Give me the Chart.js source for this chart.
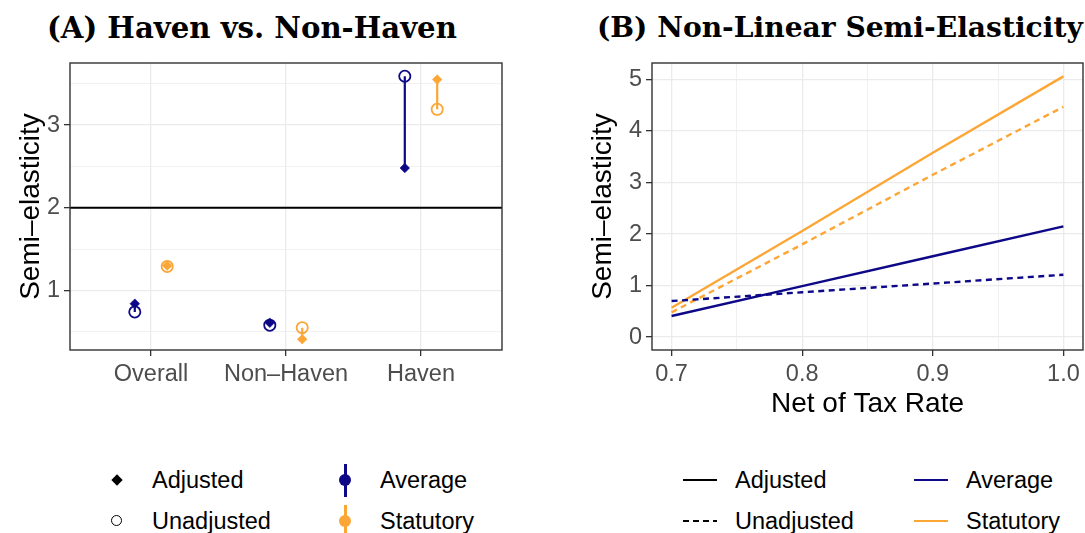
<!DOCTYPE html>
<html>
<head>
<meta charset="utf-8">
<script src="https://cdn.jsdelivr.net/npm/chart.js@4.4.0/dist/chart.umd.min.js"></script>
<style>
  body { margin: 0; background: #fff; width: 1085px; height: 533px; position: relative; overflow: hidden;
         font-family: "Liberation Sans", Arial, sans-serif; }
  .title { position: absolute; font-family: "DejaVu Serif", serif; font-weight: bold;
           font-size: 28px; line-height: 1; white-space: nowrap; color: #000; }
  .wrap { position: absolute; top: 0; height: 430px; }
  .legend { position: absolute; font-size: 23.5px; color: #000; }
  .item { position: absolute; white-space: nowrap; line-height: 28px; }
  .key { position: absolute; }
</style>
</head>
<body>
<div class="title" id="titleA">(A) Haven vs. Non-Haven</div>
<div class="title" id="titleB">(B) Non-Linear Semi-Elasticity</div>
<div class="wrap" style="left:0;width:545px"><canvas id="chartA" width="545" height="430"></canvas></div>
<div class="wrap" style="left:545px;width:540px"><canvas id="chartB" width="540" height="430"></canvas></div>
<div id="legends"></div>

<script>
// panel A: semi-elasticity by group
const groups = ["Overall", "Non\u2013Haven", "Haven"];
const avgAdjusted = [0.84, 0.61, 2.48];
const avgUnadjusted = [0.74, 0.58, 3.59];
const statAdjusted = [1.30, 0.41, 3.55];
const statUnadjusted = [1.29, 0.55, 3.19];
const benchmark = 2;

// panel B: semi-elasticity over net of tax rate
const netRate = [0.7, 0.8, 0.9, 1.0];
const avgAdjLine = [0.41, 0.99, 1.57, 2.15];
const avgUnadjLine = [0.70, 0.87, 1.04, 1.21];
const statAdjLine = [0.57, 2.06, 3.58, 5.06];
const statUnadjLine = [0.48, 1.80, 3.15, 4.47];

const NAVY = "#0D0887";
const ORANGE = "#FCA636";
const GRID = "#EBEBEB";
const FRAME = "#333333";
const TICKTXT = "#4D4D4D";
const dodge = 0.12;

// stretch the serif titles to the width they take in the figure
function fitTitle(id, left, right, top) {
  const el = document.getElementById(id);
  const w = el.getBoundingClientRect().width;
  el.style.fontSize = (28 * (right - left) / w) + "px";
  el.style.left = left + "px";
  el.style.top = top + "px";
}
fitTitle("titleA", 47, 457, 14);
fitTitle("titleB", 597, 1083, 14);

const isMajor = v => Math.abs(v - Math.round(v)) < 1e-6;

const frame = {
  id: "frame",
  afterDraw(chart) {
    const { ctx, chartArea: a } = chart;
    ctx.save();
    ctx.strokeStyle = FRAME;
    ctx.lineWidth = 1.4;
    ctx.strokeRect(a.left, a.top, a.right - a.left, a.bottom - a.top);
    ctx.restore();
  }
};

const hline = {
  id: "hline",
  beforeDatasetsDraw(chart) {
    const { ctx, chartArea: a, scales } = chart;
    const y = scales.y.getPixelForValue(benchmark);
    ctx.save();
    ctx.strokeStyle = "#000";
    ctx.lineWidth = 2;
    ctx.beginPath();
    ctx.moveTo(a.left, y);
    ctx.lineTo(a.right, y);
    ctx.stroke();
    ctx.restore();
  }
};

const pts = (vals, off) => vals.map((v, i) => ({ x: i + 1 + off, y: v }));
const segs = (a, b, off) => {
  const d = [];
  a.forEach((v, i) => d.push({ x: i + 1 + off, y: v }, { x: i + 1 + off, y: b[i] }, { x: i + 1 + off, y: null }));
  return d;
};

const segSet = (a, b, off, col) => ({
  data: segs(a, b, off), showLine: true, borderColor: col, borderWidth: 2.2, pointRadius: 0, spanGaps: false
});
const circleSet = (vals, off, col) => ({
  data: pts(vals, off), pointStyle: "circle", pointRadius: 5.6, pointBorderWidth: 1.8,
  pointBackgroundColor: "rgba(0,0,0,0)", pointBorderColor: col
});
const diamondSet = (vals, off, col) => ({
  data: pts(vals, off), pointStyle: "rectRot", pointRadius: 4.8, pointBorderWidth: 0.6,
  pointBackgroundColor: col, pointBorderColor: col
});

const tickFont = { family: "Liberation Sans", size: 23.5 };
const titleFont = { family: "Liberation Sans", size: 28 };

function gridOpts(minor) {
  return {
    color: GRID,
    lineWidth: c => (c.tick && minor && !isMajor(c.tick.value * minor)) ? 0.7 : 1.3,
    tickColor: c => (c.tick && minor && !isMajor(c.tick.value * minor)) ? "rgba(0,0,0,0)" : FRAME,
    tickLength: 6,
    tickWidth: 1.3
  };
}

new Chart(document.getElementById("chartA"), {
  type: "scatter",
  data: {
    datasets: [
      segSet(avgAdjusted, avgUnadjusted, -dodge, NAVY),
      segSet(statAdjusted, statUnadjusted, dodge, ORANGE),
      circleSet(avgUnadjusted, -dodge, NAVY),
      circleSet(statUnadjusted, dodge, ORANGE),
      diamondSet(avgAdjusted, -dodge, NAVY),
      diamondSet(statAdjusted, dodge, ORANGE)
    ]
  },
  options: {
    responsive: false,
    animation: false,
    layout: { padding: { left: 14, top: 63, right: 43, bottom: 0 } },
    plugins: { legend: { display: false }, tooltip: { enabled: false } },
    scales: {
      x: {
        type: "linear", min: 0.4, max: 3.6,
        afterBuildTicks: s => { s.ticks = [1, 2, 3].map(v => ({ value: v })); },
        afterFit: s => { s.height = 80; },
        ticks: { callback: v => groups[v - 1], font: tickFont, color: TICKTXT, autoSkip: false, maxRotation: 0, padding: 4 },
        grid: gridOpts(0),
        border: { display: false }
      },
      y: {
        min: 0.28, max: 3.75,
        afterBuildTicks: s => { s.ticks = [0.5, 1, 1.5, 2, 2.5, 3, 3.5].map(v => ({ value: v })); },
        afterFit: s => { s.width = 56; },
        ticks: { callback: v => isMajor(v) ? String(v) : "", font: tickFont, color: TICKTXT, padding: 4 },
        grid: gridOpts(1),
        border: { display: false },
        title: { display: true, text: "Semi\u2013elasticity", font: titleFont, color: "#000", padding: { top: 0, bottom: 0 } }
      }
    }
  },
  plugins: [hline, frame]
});

const lineSet = (vals, col, dashed) => ({
  type: "line",
  data: netRate.map((x, i) => ({ x: x, y: vals[i] })),
  borderColor: col, borderWidth: 2.4, pointRadius: 0, borderDash: dashed ? [6, 4.5] : [], tension: 0
});

new Chart(document.getElementById("chartB"), {
  type: "scatter",
  data: {
    datasets: [
      lineSet(avgUnadjLine, NAVY, true),
      lineSet(statUnadjLine, ORANGE, true),
      lineSet(avgAdjLine, NAVY, false),
      lineSet(statAdjLine, ORANGE, false)
    ]
  },
  options: {
    responsive: false,
    animation: false,
    layout: { padding: { left: 41, top: 63, right: 2, bottom: 0 } },
    plugins: { legend: { display: false }, tooltip: { enabled: false } },
    scales: {
      x: {
        type: "linear", min: 0.685, max: 1.015,
        afterBuildTicks: s => { s.ticks = [0.7, 0.75, 0.8, 0.85, 0.9, 0.95, 1.0].map(v => ({ value: v })); },
        afterFit: s => { s.height = 80; },
        ticks: { callback: v => isMajor(v * 10) ? v.toFixed(1) : "", font: tickFont, color: TICKTXT, autoSkip: false, maxRotation: 0, padding: 4 },
        grid: gridOpts(10),
        border: { display: false },
        title: { display: true, text: "Net of Tax Rate", font: titleFont, color: "#000", padding: { top: 0, bottom: 9 } }
      },
      y: {
        min: -0.25, max: 5.32,
        afterBuildTicks: s => { s.ticks = [0, 0.5, 1, 1.5, 2, 2.5, 3, 3.5, 4, 4.5, 5].map(v => ({ value: v })); },
        afterFit: s => { s.width = 66; },
        ticks: { callback: v => isMajor(v) ? String(v) : "", font: tickFont, color: TICKTXT, padding: 4 },
        grid: gridOpts(1),
        border: { display: false },
        title: { display: true, text: "Semi\u2013elasticity", font: titleFont, color: "#000", padding: { top: 0, bottom: 0 } }
      }
    }
  },
  plugins: [frame]
});

// legends below each panel
const legendItems = [
  { x: 117, y: 480, key: "diamond", label: "Adjusted" },
  { x: 117, y: 521, key: "circle", label: "Unadjusted" },
  { x: 345, y: 480, key: "range", col: NAVY, label: "Average" },
  { x: 345, y: 521, key: "range", col: ORANGE, label: "Statutory" },
  { x: 700, y: 480, key: "solid", label: "Adjusted" },
  { x: 700, y: 521, key: "dashed", label: "Unadjusted" },
  { x: 931, y: 480, key: "line", col: NAVY, label: "Average" },
  { x: 931, y: 521, key: "line", col: ORANGE, label: "Statutory" }
];

const host = document.getElementById("legends");
legendItems.forEach(it => {
  const k = document.createElement("div");
  k.className = "key";
  let css = "";
  if (it.key === "diamond") {
    css = `left:${it.x - 4}px;top:${it.y - 4}px;width:8px;height:8px;background:#000;transform:rotate(45deg);`;
  } else if (it.key === "circle") {
    css = `left:${it.x - 6}px;top:${it.y - 6}px;width:9px;height:9px;border:1.5px solid #000;border-radius:50%;`;
  } else if (it.key === "range") {
    css = `left:${it.x - 1}px;top:${it.y - 16}px;width:2.5px;height:33px;background:${it.col};`;
    const dot = document.createElement("div");
    dot.className = "key";
    dot.style.cssText = `left:${it.x - 6}px;top:${it.y - 6}px;width:12px;height:12px;border-radius:50%;background:${it.col};`;
    host.appendChild(dot);
  } else if (it.key === "solid") {
    css = `left:${it.x - 17}px;top:${it.y - 1}px;width:34px;height:0;border-top:2px solid #000;`;
  } else if (it.key === "dashed") {
    css = `left:${it.x - 17}px;top:${it.y - 1}px;width:34px;height:2px;background:repeating-linear-gradient(90deg,#000 0 6px,transparent 6px 10px);`;
  } else {
    css = `left:${it.x - 17}px;top:${it.y - 1}px;width:34px;height:0;border-top:2px solid ${it.col};`;
  }
  k.style.cssText = css;
  host.appendChild(k);
  const t = document.createElement("div");
  t.className = "legend item";
  t.textContent = it.label;
  t.style.left = (it.x + 35) + "px";
  t.style.top = (it.y - 14) + "px";
  host.appendChild(t);
});
</script>
</body>
</html>
